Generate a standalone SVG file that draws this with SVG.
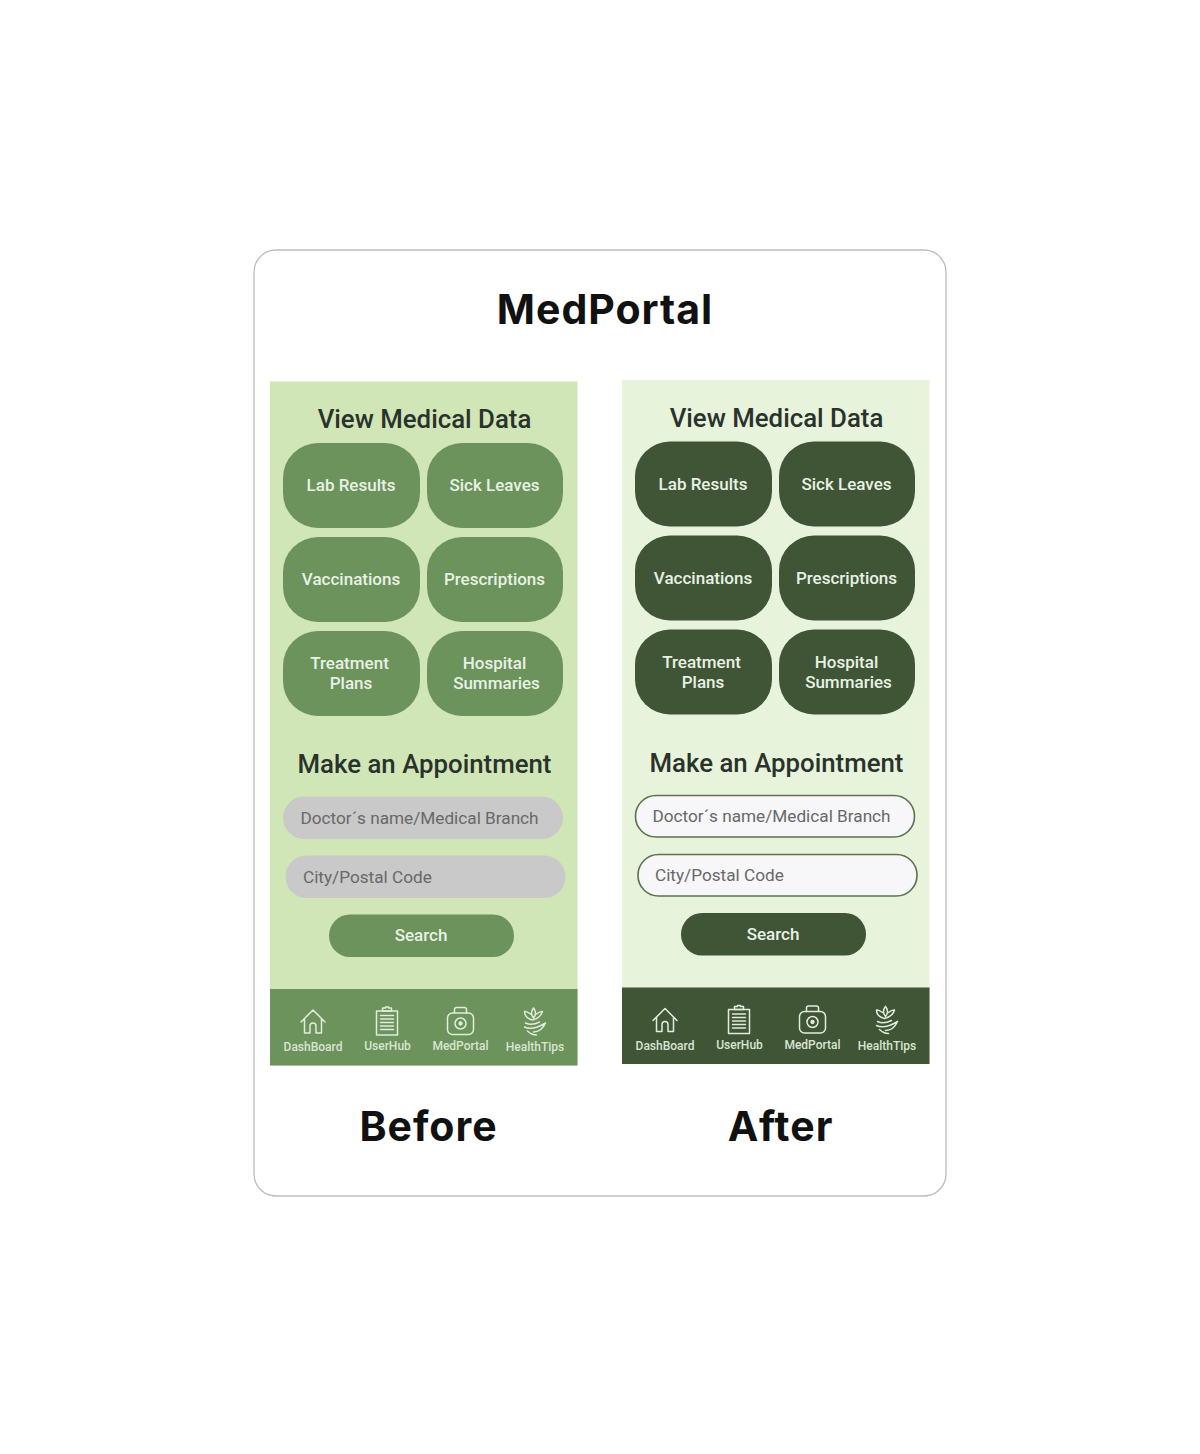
<svg xmlns="http://www.w3.org/2000/svg" width="1200" height="1454" viewBox="0 0 1200 1454">
<style>
text{font-family:Roboto,"Liberation Sans",sans-serif;text-anchor:middle}
.head{font-family:Inter,"Liberation Sans",sans-serif;font-weight:700;fill:#111}
.h2{font-size:25.8px;font-weight:500;fill:#2a322c}
.lb{font-size:17px;font-weight:500;fill:#e9f1e5}
.ph{font-size:17.2px;font-weight:400;text-anchor:start;fill:#686868}
.nav{font-size:12px;font-weight:500;fill:#d9e5d3}
.ic{fill:none;stroke:#e2ecdd;stroke-width:1.5;stroke-linecap:round;stroke-linejoin:round}
.b .btn{fill:#6b935b}.a .btn{fill:#3f5535}
.b .bar{fill:#6b935b}.a .bar{fill:#3f5535}
.b .bg{fill:#d1e6b6}.a .bg{fill:#e8f3dc}
.b .fld{fill:#c9c9c9}.a .fld{fill:#f7f6f8;stroke:#5a7350;stroke-width:1.6}
</style>
<defs>
<g id="home" class="ic"><path d="M-12 1 L0 -11 L12 1 M-8.500 -2 V12 H-3 V5 Q-3 2 0 2 Q3 2 3 5 V12 H8.500 V-2"/></g>
<g id="clip" class="ic"><rect x="-10.500" y="-10" width="21" height="24"/><path d="M-4.500 -10 V-13 H-1.500 V-14 H1.500 V-13 H4.500 V-10 H-4.500 M-6.500 -5.500 H6.500 M-6.500 -2 H6.500 M-6.500 1.500 H6.500 M-6.500 5 H6.500 M-6.500 8.500 H6.500"/></g>
<g id="case" class="ic"><rect x="-13" y="-8" width="26" height="21.500" rx="5"/><path d="M-6 -8 V-11.500 Q-6 -13.500 -4 -13.500 H4 Q6 -13.500 6 -11.500 V-8"/><circle cx="0" cy="2.500" r="5.500"/><circle cx="0" cy="2.500" r="1.400" fill="#e2ecdd"/></g>
<g id="leaf" class="ic"><path d="M-1 -13 Q-5 -8 -1 -3 Q3 -8 -1 -13 M-4 -7 Q-8 -10 -10 -9.500 Q-10 -3 -2 -1 Q6 -3 8 -9.500 Q6 -10 2 -7 M-9 2 Q-3 5 5 1 M-10 6 Q-2 10 11 2 Q7 11 -1 11 M-7 10 Q-3 14 2 14"/></g>
</defs>
<rect id="canvas" width="1200" height="1454" fill="#ffffff"/>
<g id="card"><rect x="254" y="250" width="692" height="946" rx="22" fill="#fff" stroke="#bdbdbd" stroke-width="1.300"/></g>
<g id="title"><text class="head" x="605" y="324" font-size="41" letter-spacing="1">MedPortal</text></g>

<g id="before" class="b">
<rect class="bg" x="270" y="381.500" width="307.500" height="684"/>
<text class="h2" x="424.500" y="428">View Medical Data</text>
<g id="b-lab"><rect class="btn" x="283" y="443" width="137" height="85" rx="35"/><text class="lb" x="351" y="491">Lab Results</text></g>
<g id="b-sick"><rect class="btn" x="427" y="443" width="136" height="85" rx="35"/><text class="lb" x="494.500" y="491">Sick Leaves</text></g>
<g id="b-vacc"><rect class="btn" x="283" y="537" width="137" height="85" rx="35"/><text class="lb" x="351" y="585">Vaccinations</text></g>
<g id="b-pres"><rect class="btn" x="427" y="537" width="136" height="85" rx="35"/><text class="lb" x="494.500" y="585">Prescriptions</text></g>
<g id="b-treat"><rect class="btn" x="283" y="631" width="137" height="85" rx="35"/><text class="lb" x="349.500" y="669">Treatment</text><text class="lb" x="351" y="689">Plans</text></g>
<g id="b-hosp"><rect class="btn" x="427" y="631" width="136" height="85" rx="35"/><text class="lb" x="494.500" y="669">Hospital</text><text class="lb" x="496.500" y="689">Summaries</text></g>
<text class="h2" x="424.500" y="773">Make an Appointment</text>
<g id="b-doc"><rect class="fld" x="283" y="796.500" width="280" height="42.500" rx="21"/><text class="ph" x="300.500" y="823.500">Doctor´s name/Medical Branch</text></g>
<g id="b-city"><rect class="fld" x="285.500" y="855.500" width="280" height="42.500" rx="21"/><text class="ph" x="303" y="882.500">City/Postal Code</text></g>
<g id="b-search"><rect class="btn" x="329" y="914.500" width="185" height="42.500" rx="21"/><text class="lb" x="421" y="941">Search</text></g>
<rect class="bar" x="270" y="989" width="307.500" height="76.500"/>
<g id="b-nav1"><use href="#home" x="313" y="1021"/><text class="nav" x="313" y="1051">DashBoard</text></g>
<g id="b-nav2"><use href="#clip" x="387" y="1021"/><text class="nav" x="387.500" y="1050">UserHub</text></g>
<g id="b-nav3"><use href="#case" x="460.500" y="1021"/><text class="nav" x="460.500" y="1050">MedPortal</text></g>
<g id="b-nav4"><use href="#leaf" x="534.500" y="1021"/><text class="nav" x="535" y="1051">HealthTips</text></g>
</g>

<g id="after" class="a">
<rect class="bg" x="622" y="380" width="307.500" height="684"/>
<text class="h2" x="776.500" y="426.500">View Medical Data</text>
<g id="a-lab"><rect class="btn" x="635" y="441.500" width="137" height="85" rx="35"/><text class="lb" x="703" y="489.500">Lab Results</text></g>
<g id="a-sick"><rect class="btn" x="779" y="441.500" width="136" height="85" rx="35"/><text class="lb" x="846.500" y="489.500">Sick Leaves</text></g>
<g id="a-vacc"><rect class="btn" x="635" y="535.500" width="137" height="85" rx="35"/><text class="lb" x="703" y="583.500">Vaccinations</text></g>
<g id="a-pres"><rect class="btn" x="779" y="535.500" width="136" height="85" rx="35"/><text class="lb" x="846.500" y="583.500">Prescriptions</text></g>
<g id="a-treat"><rect class="btn" x="635" y="629.500" width="137" height="85" rx="35"/><text class="lb" x="701.500" y="667.500">Treatment</text><text class="lb" x="703" y="687.500">Plans</text></g>
<g id="a-hosp"><rect class="btn" x="779" y="629.500" width="136" height="85" rx="35"/><text class="lb" x="846.500" y="667.500">Hospital</text><text class="lb" x="848.500" y="687.500">Summaries</text></g>
<text class="h2" x="776.500" y="771.500">Make an Appointment</text>
<g id="a-doc"><rect class="fld" x="635.500" y="795.500" width="279" height="41.500" rx="20.500"/><text class="ph" x="652.500" y="822">Doctor´s name/Medical Branch</text></g>
<g id="a-city"><rect class="fld" x="638" y="854.500" width="279" height="41.500" rx="20.500"/><text class="ph" x="655" y="881">City/Postal Code</text></g>
<g id="a-search"><rect class="btn" x="681" y="913" width="185" height="42.500" rx="21"/><text class="lb" x="773" y="939.500">Search</text></g>
<rect class="bar" x="622" y="987.500" width="307.500" height="76.500"/>
<g id="a-nav1"><use href="#home" x="665" y="1019.500"/><text class="nav" x="665" y="1049.500">DashBoard</text></g>
<g id="a-nav2"><use href="#clip" x="739" y="1019.500"/><text class="nav" x="739.500" y="1048.500">UserHub</text></g>
<g id="a-nav3"><use href="#case" x="812.500" y="1019.500"/><text class="nav" x="812.500" y="1048.500">MedPortal</text></g>
<g id="a-nav4"><use href="#leaf" x="886.500" y="1019.500"/><text class="nav" x="887" y="1049.500">HealthTips</text></g>
</g>
<g id="labels"><text class="head" x="428.500" y="1141" font-size="41" letter-spacing="1">Before</text><text class="head" x="780.500" y="1141" font-size="41" letter-spacing="1">After</text></g>
</svg>
